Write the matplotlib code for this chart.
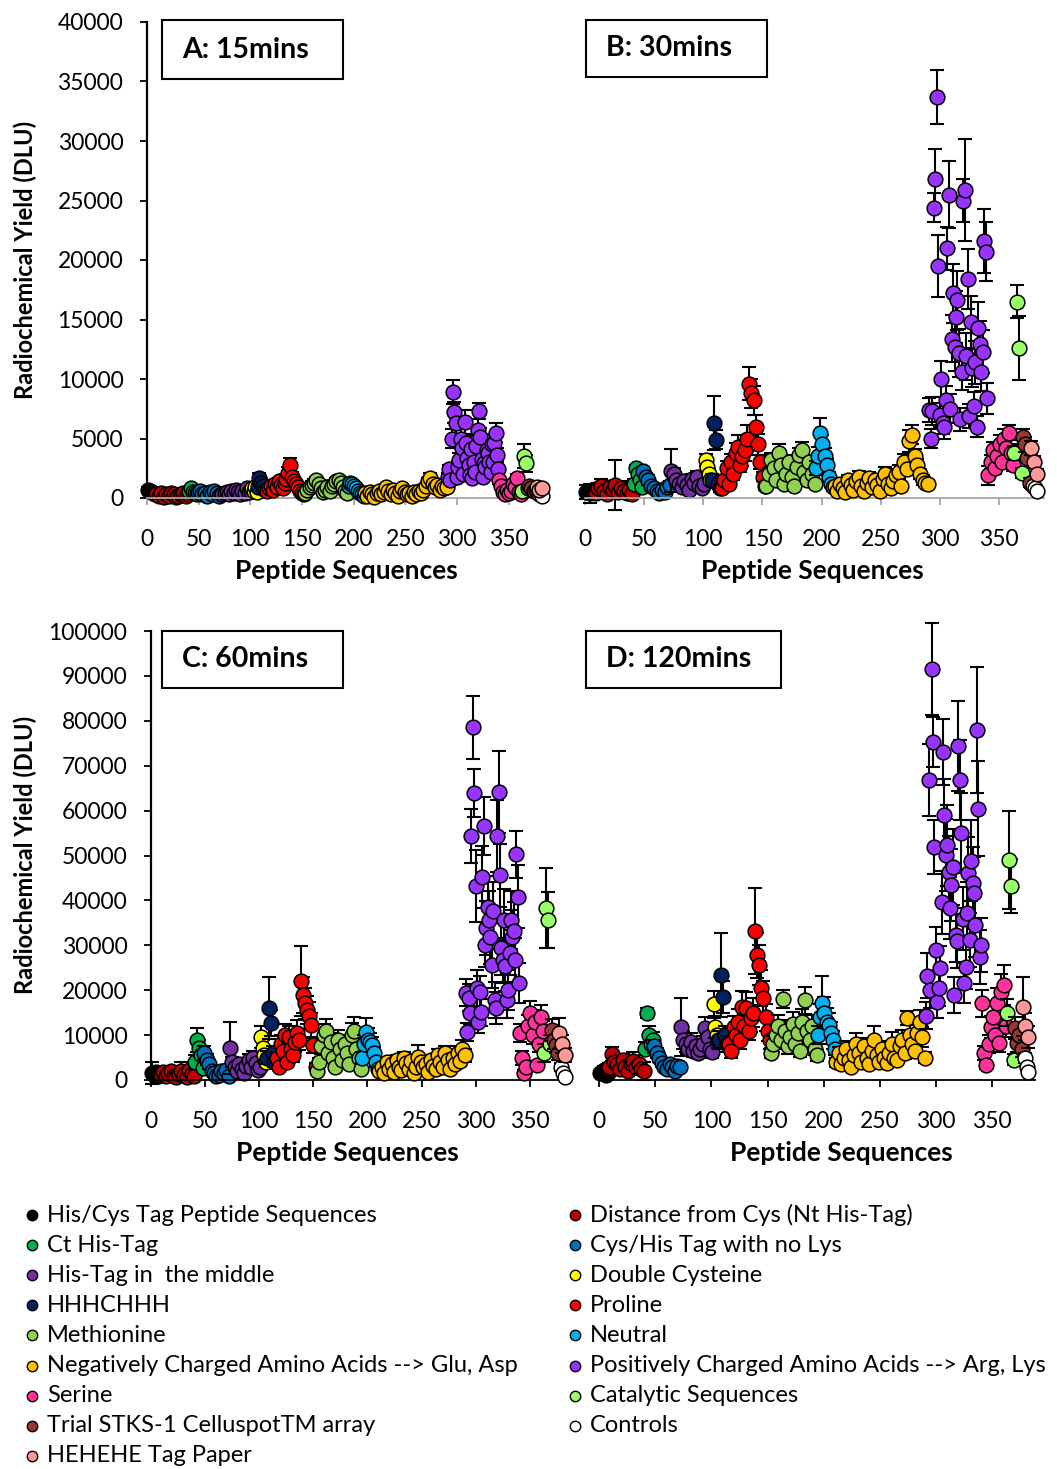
import numpy as np
import matplotlib.pyplot as plt
from matplotlib.lines import Line2D
from matplotlib.patches import Rectangle

plt.rcParams['font.family'] = ['Lato', 'DejaVu Sans']

# series in the order of the legend (row by row)
labels = ['His/Cys Tag Peptide Sequences', 'Distance from Cys (Nt His-Tag)',
          'Ct His-Tag', 'Cys/His Tag with no Lys',
          'His-Tag in  the middle', 'Double Cysteine',
          'HHHCHHH', 'Proline',
          'Methionine', 'Neutral',
          'Negatively Charged Amino Acids --> Glu, Asp', 'Positively Charged Amino Acids --> Arg, Lys',
          'Serine', 'Catalytic Sequences',
          'Trial STKS-1 CelluspotTM array', 'Controls',
          'HEHEHE Tag Paper']
colors = ['#000000', '#C00000', '#00B050', '#0070C0', '#7030A0', '#FFFF00',
          '#002060', '#FF0000', '#92D050', '#00B0F0', '#FFC000', '#9933FF',
          '#FF3399', '#99FF66', '#953735', '#FFFFFF', '#FF9999']

# peptide index range of each series
x_start = [1, 9, 41, 49, 73, 102, 107, 116, 153, 195, 211, 291, 341, 363, 370, 379, 377]
x_end = [8, 40, 48, 72, 101, 106, 114, 152, 194, 210, 290, 340, 362, 369, 376, 382, 382]

# values in thousands of DLU
yA = [[0.7, 0.6, 0.5, 0.4, 0.3],
      [0.3, 0.2, 0.4, 0.1, 0.3, 0.2, 0.4, 0.3, 0.1, 0.2, 0.3, 0.4, 0.2, 0.3],
      [0.6, 0.8, 0.5, 0.4, 0.3],
      [0.5, 0.6, 0.3, 0.4, 0.2, 0.5, 0.3, 0.6, 0.4, 0.2, 0.3],
      [0.3, 0.4, 0.5, 0.3, 0.6, 0.4, 0.7, 0.5, 0.3, 0.6, 0.4, 0.8, 0.5, 0.6],
      [0.8, 0.6, 0.9, 0.5],
      [0.9, 1.7, 1.3, 1.0, 0.7],
      [0.6, 0.8, 1.0, 0.7, 1.2, 0.9, 1.4, 1.1, 0.8, 1.3, 1.6, 2.1, 2.8, 1.8, 1.4, 1.2, 0.9, 0.6, 0.4, 0.3],
      [0.4, 0.7, 0.9, 1.1, 1.3, 1.5, 1.2, 0.8, 0.5, 0.7, 0.9, 0.6, 1.0, 1.2, 1.4, 1.5, 1.3, 0.9, 0.6, 0.4],
      [1.0, 1.3, 1.2, 1.0, 0.8, 0.6, 0.4, 0.3, 0.2],
      [0.4, 0.2, 0.5, 0.3, 0.1, 0.4, 0.6, 0.3, 0.5, 0.9, 0.6, 0.3, 0.7, 0.4, 0.2, 0.6, 0.8, 0.5,
       0.3, 0.4, 0.2, 0.5, 0.3, 0.6, 0.4, 0.7, 1.0, 1.4, 1.7, 1.2, 0.9, 1.1, 0.7, 1.0, 0.8, 0.9],
      [1.8, 2.4, 1.5, 5.0, 8.9, 7.2, 6.3, 1.8, 2.6, 3.2, 5.0, 4.2, 2.0, 6.4, 4.6, 3.4, 2.8, 1.9, 4.1, 1.7,
       3.0, 2.2, 4.4, 5.7, 7.3, 5.1, 3.3, 1.8, 2.9, 2.6, 4.0, 3.8, 3.0, 2.2, 4.5, 3.0, 4.6, 5.5, 3.6, 2.4],
      [1.5, 1.0, 0.5, 0.3, 0.7, 0.4, 0.6, 1.2, 0.9, 1.7, 0.5, 0.3],
      [0.6, 3.5, 2.9, 0.8],
      [1.0, 0.8, 0.6, 0.7],
      [0.3, 0.5, 0.2],
      [0.9, 0.7, 0.8]]
eA = [[0.2, 0.2, 0.1, 0.1, 0.1],
      [0.1, 0.1, 0.2, 0.1, 0.1, 0.1, 0.2, 0.1, 0.1, 0.1, 0.2, 0.1, 0.1, 0.1],
      [0.2, 0.2, 0.1, 0.1, 0.1],
      [0.1, 0.2, 0.1, 0.1, 0.1, 0.2, 0.1, 0.2, 0.1, 0.1, 0.1],
      [0.1, 0.1, 0.2, 0.1, 0.2, 0.1, 0.2, 0.1, 0.1, 0.2, 0.1, 0.2, 0.1, 0.2],
      [0.2, 0.1, 0.2, 0.1],
      [0.3, 0.4, 0.3, 0.2, 0.2],
      [0.2, 0.2, 0.3, 0.2, 0.3, 0.2, 0.3, 0.3, 0.2, 0.3, 0.4, 0.5, 0.6, 0.4, 0.3, 0.3, 0.2, 0.2, 0.1, 0.1],
      [0.1, 0.2, 0.2, 0.3, 0.3, 0.3, 0.3, 0.2, 0.1, 0.2, 0.2, 0.1, 0.2, 0.3, 0.3, 0.3, 0.3, 0.2, 0.1, 0.1],
      [0.3, 0.3, 0.3, 0.2, 0.2, 0.1, 0.1, 0.1, 0.1],
      [0.1, 0.1, 0.1, 0.1, 0.1, 0.1, 0.2, 0.1, 0.1, 0.2, 0.1, 0.1, 0.2, 0.1, 0.1, 0.1, 0.2, 0.1,
       0.1, 0.1, 0.1, 0.1, 0.1, 0.2, 0.1, 0.2, 0.2, 0.3, 0.4, 0.3, 0.2, 0.3, 0.2, 0.2, 0.2, 0.2],
      [0.3, 0.4, 0.3, 0.8, 1.0, 0.9, 1.1, 0.3, 0.5, 0.6, 0.9, 0.7, 0.4, 1.0, 0.8, 0.6, 0.5, 0.3, 0.7, 0.3,
       0.5, 0.4, 0.8, 0.9, 0.7, 0.8, 0.6, 0.3, 0.5, 0.4, 0.7, 0.6, 0.5, 0.4, 0.8, 0.5, 0.8, 0.8, 0.6, 0.4],
      [0.3, 0.2, 0.1, 0.1, 0.2, 0.1, 0.1, 0.2, 0.2, 0.3, 0.1, 0.1],
      [0.2, 1.0, 0.7, 0.2],
      [0.2, 0.2, 0.1, 0.2],
      [0.1, 0.1, 0.1],
      [0.2, 0.2, 0.2]]

yB = [[0.5, 0.6, 0.4, 0.7, 0.5],
      [0.4, 0.8, 1.0, 0.6, 0.3, 0.9, 0.7, 1.1, 0.5, 0.8, 0.6, 0.4, 0.7, 0.3],
      [1.2, 2.5, 2.0, 1.5, 0.9],
      [2.3, 1.8, 1.5, 1.0, 0.8, 0.6, 0.4, 0.7, 0.5, 0.9, 1.1],
      [2.3, 2.0, 1.5, 1.2, 0.9, 1.4, 1.1, 0.7, 1.6, 1.3, 1.8, 1.0, 0.8, 1.2],
      [3.2, 2.6, 2.0, 1.5],
      [1.5, 6.3, 4.9, 1.2, 0.8],
      [0.8, 1.5, 2.5, 1.2, 3.0, 2.0, 3.8, 4.3, 2.8, 3.5, 4.0, 5.0, 9.6, 8.8, 8.2, 6.0, 4.5, 3.0, 1.8, 1.0],
      [1.0, 2.0, 3.2, 2.5, 1.5, 3.8, 2.8, 1.2, 2.0, 3.0, 1.8, 1.0, 2.6, 3.6, 4.0, 2.2, 1.5, 3.0, 2.0, 1.2],
      [2.5, 3.5, 5.5, 4.5, 3.5, 2.8, 1.8, 1.2, 0.9],
      [1.0, 0.6, 1.2, 0.8, 0.5, 1.5, 1.1, 0.7, 1.4, 1.8, 1.0, 0.6, 1.3, 1.7, 0.9, 1.5, 1.1, 0.6,
       1.6, 2.0, 1.2, 0.8, 1.4, 1.9, 2.2, 1.0, 3.0, 2.4, 4.8, 5.3, 3.5, 2.8, 2.0, 1.5, 1.3, 1.2],
      [7.4, 5.0, 7.3, 24.4, 26.8, 33.7, 19.5, 7.0, 10.0, 6.3, 6.0, 8.2, 21.0, 25.5, 7.5, 13.4, 17.2, 12.7, 15.2, 16.6,
       12.2, 6.6, 10.6, 25.0, 25.9, 11.9, 18.4, 6.9, 14.8, 10.9, 7.7, 11.4, 6.0, 14.3, 12.9, 10.6, 12.3, 21.6, 20.7, 8.4],
      [1.9, 3.0, 4.0, 2.5, 3.5, 4.5, 3.0, 5.0, 4.2, 5.5, 3.8, 2.8],
      [3.8, 16.5, 12.6, 2.1],
      [5.1, 4.5, 3.4, 1.3],
      [1.0, 0.8, 0.6],
      [4.2, 3.0, 2.0]]
eB = [[0.6, 0.4, 0.8, 0.5, 0.3],
      [0.4, 0.5, 0.6, 0.3, 0.3, 0.5, 0.2, 2.1, 0.4, 0.6, 0.4, 0.3, 0.5, 0.3],
      [0.4, 0.3, 0.5, 0.4, 0.3],
      [0.3, 0.3, 0.4, 0.3, 0.2, 0.2, 0.2, 0.3, 0.2, 0.3, 0.3],
      [1.8, 0.5, 0.4, 0.3, 0.3, 0.4, 0.3, 0.2, 0.4, 0.3, 0.5, 0.3, 0.2, 0.3],
      [0.5, 0.4, 0.4, 0.3],
      [0.5, 2.3, 0.8, 0.4, 0.3],
      [0.3, 0.4, 0.6, 0.3, 0.7, 0.5, 0.8, 1.0, 0.6, 0.8, 0.9, 1.1, 1.4, 1.2, 1.2, 1.0, 0.9, 0.6, 0.4, 0.3],
      [0.3, 0.5, 0.6, 0.5, 0.4, 0.7, 0.5, 0.3, 0.5, 0.6, 0.4, 0.3, 0.5, 0.6, 0.7, 0.5, 0.4, 0.6, 0.4, 0.3],
      [0.6, 0.8, 1.2, 0.8, 0.7, 0.5, 0.4, 0.3, 0.3],
      [0.3, 0.2, 0.3, 0.2, 0.2, 0.4, 0.3, 0.2, 0.3, 0.5, 0.3, 0.2, 0.3, 0.5, 0.3, 0.4, 0.3, 0.2,
       0.4, 0.6, 0.3, 0.2, 0.3, 0.5, 0.6, 0.3, 0.7, 0.5, 0.9, 0.8, 0.6, 0.5, 0.4, 0.4, 0.3, 0.3],
      [1.0, 0.8, 1.2, 1.2, 2.5, 2.3, 2.6, 1.0, 1.5, 0.9, 1.0, 1.2, 1.8, 2.8, 1.2, 2.0, 2.5, 2.0, 2.2, 2.5,
       2.0, 1.0, 1.5, 1.8, 4.3, 2.0, 2.5, 1.0, 2.2, 1.6, 1.2, 1.8, 0.9, 2.2, 2.0, 1.6, 1.8, 2.7, 2.5, 1.3],
      [0.8, 0.6, 0.7, 0.5, 0.6, 0.8, 0.5, 0.8, 0.7, 0.6, 0.7, 0.5],
      [0.6, 1.4, 2.7, 0.4],
      [0.7, 0.6, 0.5, 0.4],
      [0.2, 0.2, 0.1],
      [0.6, 0.5, 0.4]]

yC = [[1.5, 1.2, 1.8, 1.0, 1.3],
      [1.2, 1.8, 0.8, 1.5, 2.0, 1.0, 0.6, 1.4, 1.9, 1.1, 0.7, 2.2, 1.3, 0.9],
      [4.0, 8.9, 7.1, 5.5, 2.7],
      [6.0, 4.5, 3.5, 2.0, 1.5, 0.8, 1.2, 2.0, 1.5, 2.2, 1.0],
      [7.1, 4.0, 3.0, 2.0, 3.5, 2.5, 1.5, 3.2, 4.5, 2.8, 5.0, 3.8, 2.2, 3.0],
      [9.6, 7.1, 5.5, 4.1],
      [5.0, 16.0, 12.7, 6.0, 4.0],
      [5.0, 3.0, 8.0, 6.5, 10.0, 4.0, 9.5, 7.0, 5.5, 8.5, 10.5, 9.0, 22.0, 18.9, 17.1, 15.6, 14.3, 12.2, 7.8, 3.0],
      [2.0, 4.0, 7.5, 10.0, 11.0, 6.0, 8.5, 5.0, 3.0, 9.0, 7.0, 4.5, 8.0, 6.0, 3.5, 10.0, 11.0, 7.0, 5.0, 2.5],
      [5.0, 8.0, 10.7, 9.0, 8.5, 7.8, 6.0, 4.0, 2.5],
      [2.0, 3.0, 1.5, 4.0, 2.5, 3.5, 1.8, 4.5, 3.0, 2.2, 5.0, 3.8, 2.5, 4.2, 1.5, 3.0, 5.2, 4.0,
       2.8, 3.5, 1.8, 4.5, 3.2, 2.5, 5.5, 4.0, 3.0, 6.0, 4.5, 2.5, 5.0, 3.5, 6.0, 4.2, 7.0, 5.5],
      [19.4, 10.7, 18.3, 15.0, 54.3, 78.6, 63.9, 43.2, 20.5, 12.9, 19.6, 15.1, 45.2, 56.6, 30.1, 33.8, 38.5, 35.6, 31.9, 25.6,
       37.6, 17.8, 16.0, 54.3, 64.1, 45.6, 29.4, 26.7, 35.6, 25.4, 17.8, 20.0, 28.3, 35.6, 31.9, 33.2, 26.7, 50.3, 40.8, 21.6],
      [10.4, 4.9, 1.6, 3.0, 12.0, 14.9, 10.0, 13.0, 3.3, 8.0, 14.1, 11.0],
      [6.0, 38.3, 35.6, 8.0],
      [11.1, 9.0, 7.8, 6.0],
      [2.9, 1.5, 0.7],
      [10.4, 8.0, 5.6]]
eC = [[2.5, 0.8, 1.0, 0.6, 0.5],
      [0.6, 0.8, 0.5, 0.7, 1.0, 0.5, 0.4, 0.7, 2.0, 0.6, 0.4, 1.0, 0.6, 0.5],
      [1.5, 2.7, 1.8, 1.2, 0.8],
      [1.5, 1.2, 1.0, 0.6, 0.5, 0.3, 0.4, 0.6, 0.5, 0.7, 0.4],
      [5.8, 1.2, 0.9, 0.6, 1.0, 0.8, 0.5, 1.0, 1.4, 0.8, 1.5, 1.1, 0.7, 0.9],
      [2.5, 1.8, 1.5, 1.2],
      [1.5, 6.9, 3.0, 1.5, 1.0],
      [1.2, 0.8, 2.0, 1.5, 2.5, 1.0, 2.5, 1.8, 1.4, 2.2, 2.8, 2.4, 7.8, 4.0, 3.5, 3.2, 3.0, 2.8, 1.8, 0.8],
      [0.6, 1.0, 1.8, 2.4, 2.5, 1.5, 2.0, 1.2, 0.8, 2.2, 1.8, 1.1, 2.0, 1.5, 0.9, 2.8, 3.0, 1.8, 1.2, 0.7],
      [1.2, 2.0, 3.0, 2.5, 2.0, 1.8, 1.4, 1.0, 0.6],
      [0.5, 0.8, 0.4, 1.0, 0.6, 0.9, 0.5, 1.1, 0.8, 0.6, 1.3, 1.0, 0.6, 1.1, 0.4, 0.8, 2.5, 1.0,
       0.7, 0.9, 0.5, 1.1, 0.8, 0.6, 1.4, 1.0, 0.8, 1.5, 1.1, 0.6, 1.2, 0.9, 1.5, 1.1, 1.8, 1.4],
      [3.0, 2.0, 3.0, 2.5, 6.0, 7.0, 5.4, 8.0, 4.0, 2.5, 3.5, 3.0, 7.0, 6.4, 5.0, 6.0, 7.0, 6.5, 6.0, 5.0,
       6.5, 4.0, 3.5, 8.0, 9.2, 7.0, 6.0, 5.0, 7.0, 5.5, 4.0, 4.5, 5.0, 6.5, 6.0, 6.5, 5.0, 5.2, 7.0, 4.5],
      [2.0, 1.5, 0.6, 1.0, 2.5, 2.8, 2.0, 2.5, 1.0, 1.8, 2.6, 2.2],
      [2.0, 8.9, 6.2, 2.0],
      [2.5, 2.0, 1.8, 1.5],
      [0.8, 0.5, 0.3],
      [3.5, 2.0, 1.5]]

yD = [[1.5, 1.8, 2.2, 1.2, 1.6],
      [3.0, 5.8, 4.0, 3.5, 2.5, 4.5, 3.0, 2.0, 3.8, 4.2, 2.8, 3.5, 2.4, 2.0],
      [7.0, 14.9, 10.0, 8.0, 9.0],
      [7.5, 6.0, 4.9, 3.8, 3.0, 2.5, 3.5, 2.8, 2.0, 3.2, 2.9],
      [11.8, 9.0, 8.0, 7.0, 8.5, 6.5, 7.5, 6.0, 7.0, 8.0, 11.6, 9.5, 7.0, 6.2],
      [16.9, 11.8, 10.0, 8.9],
      [9.0, 23.4, 18.5, 10.0, 8.0],
      [8.0, 6.5, 11.8, 10.0, 13.0, 9.0, 16.3, 12.0, 16.0, 11.0, 13.8, 15.0, 33.2, 27.8, 25.6, 20.5, 18.3, 14.0, 11.0, 9.0],
      [6.0, 8.0, 10.0, 12.0, 9.0, 18.0, 11.0, 7.5, 9.5, 12.5, 8.0, 10.5, 6.5, 13.0, 17.8, 11.0, 9.0, 12.0, 7.0, 5.5],
      [10.0, 14.0, 17.1, 15.0, 13.0, 12.2, 10.5, 9.0, 7.0],
      [4.0, 6.0, 3.5, 5.0, 7.0, 4.5, 3.0, 5.5, 8.0, 6.0, 4.0, 7.5, 5.0, 3.5, 6.5, 9.0, 5.5, 4.0,
       7.0, 5.0, 3.8, 6.0, 8.0, 5.0, 4.5, 7.5, 9.0, 6.0, 13.8, 10.0, 8.0, 6.5, 10.5, 12.9, 9.6, 5.0],
      [14.3, 23.2, 66.8, 20.0, 91.5, 75.3, 51.9, 29.0, 17.4, 20.5, 24.9, 39.6, 73.0, 59.0, 50.1, 52.3, 46.3, 38.3, 43.4, 47.4,
       18.9, 32.3, 31.0, 74.4, 66.8, 55.0, 35.9, 21.6, 25.2, 37.2, 46.1, 31.2, 48.8, 43.9, 41.6, 34.5, 77.9, 60.4, 27.4, 30.1],
      [17.1, 6.0, 3.3, 8.0, 11.8, 14.0, 10.0, 17.1, 8.2, 19.7, 21.2, 12.0],
      [15.0, 49.0, 43.2, 4.5],
      [11.6, 8.2, 10.0, 7.0],
      [4.9, 3.0, 1.8],
      [16.3, 12.0, 9.6]]
eD = [[0.6, 0.8, 0.9, 0.5, 0.6],
      [0.8, 1.5, 1.2, 1.0, 0.8, 1.2, 0.8, 0.6, 1.0, 2.0, 0.8, 1.0, 0.7, 2.0],
      [1.5, 1.1, 2.0, 1.5, 1.8],
      [1.5, 1.2, 1.0, 0.8, 0.6, 0.5, 0.7, 0.6, 0.5, 0.7, 0.6],
      [6.5, 2.0, 1.8, 1.5, 2.0, 1.4, 1.6, 1.2, 1.5, 1.8, 2.5, 2.0, 1.5, 1.3],
      [3.0, 2.5, 2.0, 1.8],
      [2.0, 9.3, 3.5, 2.0, 1.8],
      [1.8, 1.5, 2.5, 2.0, 2.8, 2.0, 3.5, 2.5, 3.5, 2.2, 3.0, 3.2, 9.6, 5.0, 4.5, 4.0, 3.8, 3.0, 2.4, 2.0],
      [1.2, 1.8, 2.2, 2.5, 2.0, 2.0, 2.4, 1.6, 2.0, 2.6, 1.8, 2.2, 1.4, 2.8, 3.0, 2.4, 2.0, 2.5, 1.5, 1.2],
      [2.0, 3.0, 6.0, 3.5, 3.0, 2.8, 2.5, 2.0, 1.5],
      [1.0, 1.4, 0.8, 1.2, 1.6, 1.0, 0.7, 1.3, 2.5, 1.4, 1.0, 1.8, 1.2, 0.8, 1.5, 3.0, 1.3, 1.0,
       1.6, 1.2, 0.9, 1.4, 2.8, 1.2, 1.0, 1.8, 2.2, 1.4, 1.5, 2.4, 1.8, 1.5, 2.5, 2.8, 2.2, 1.2],
      [3.0, 5.0, 8.0, 4.0, 10.3, 5.5, 6.0, 5.0, 3.5, 4.0, 5.0, 7.0, 7.4, 8.0, 8.0, 9.0, 8.0, 7.0, 8.0, 8.5,
       4.0, 6.0, 6.0, 10.0, 9.0, 9.0, 7.0, 4.5, 5.0, 7.0, 8.0, 6.0, 9.0, 8.0, 8.0, 7.0, 14.0, 10.6, 6.0, 6.0],
      [3.0, 1.5, 0.8, 2.0, 2.5, 3.0, 2.2, 3.5, 2.0, 4.0, 4.5, 2.5],
      [3.0, 11.0, 6.0, 1.2],
      [2.5, 2.0, 2.2, 1.8],
      [1.2, 0.8, 0.5],
      [6.6, 3.0, 2.5]]

W, H = 1057, 1469
fig = plt.figure(figsize=(W / 100, H / 100), dpi=100)


def make_ax(left, right, top, bottom):
    return fig.add_axes([left / W, 1 - bottom / H, (right - left) / W, (bottom - top) / H])


def draw(ax, vals, errs):
    for i in range(len(labels)):
        y = np.array(vals[i]) * 1000
        e = np.array(errs[i]) * 1000
        x = np.linspace(x_start[i], x_end[i], len(y))
        cont = ax.errorbar(x, y, yerr=e, fmt='none', ecolor='black', elinewidth=1.5,
                           capsize=5, capthick=1.5, zorder=2 + i * 0.1)
        for art in list(cont.lines[1]) + list(cont.lines[2]):
            art.set_clip_on(False)
        ax.plot(x, y, 'o', ms=10.6, mfc=colors[i], mec='black', mew=1.1,
                zorder=2.05 + i * 0.1, clip_on=False)


panels = [
    (yA, eA, (147, 548, 22, 498), 40000, 5000, True, '#A6A6A6', 'A: 15mins', (162, 343, 20, 79), (346, 571)),
    (yB, eB, (585, 1044, 22, 498), 40000, 5000, False, '#A6A6A6', 'B: 30mins', (586, 767, 20, 77), (812, 571)),
    (yC, eC, (151, 571, 631, 1080), 100000, 10000, True, 'black', 'C: 60mins', (162, 343, 631, 688), (347, 1153)),
    (yD, eD, (599, 1035, 631, 1080), 100000, 10000, False, 'black', 'D: 120mins', (586, 781, 631, 688), (841, 1153)),
]

for vals, errs, rect, ymax, ystep, show_y, xcol, title, box, xl in panels:
    ax = make_ax(*rect)
    draw(ax, vals, errs)
    ax.set_xlim(0, 388)
    ax.set_ylim(0, ymax)
    ax.set_xticks(np.arange(0, 351, 50))
    ax.set_yticks(np.arange(0, ymax + 1, ystep))
    ax.set_facecolor('none')
    for s in ['top', 'right']:
        ax.spines[s].set_visible(False)
    ax.spines['bottom'].set_color(xcol)
    ax.spines['bottom'].set_linewidth(1.3)
    ax.tick_params(axis='x', direction='out', length=5, width=1.3, color=xcol,
                   pad=17, labelsize=16.5)
    if show_y:
        ax.spines['left'].set_linewidth(1.6)
        ax.tick_params(axis='y', direction='out', length=5, width=1.3,
                       pad=12, labelsize=16.5)
    else:
        ax.spines['left'].set_visible(False)
        ax.tick_params(axis='y', left=False, labelleft=False)

    l, r, t, b = box
    fig.add_artist(Rectangle((l / W, 1 - b / H), (r - l) / W, (b - t) / H,
                             transform=fig.transFigure, fill=False, lw=1.5, ec='black'))
    fig.text((l + 20) / W, 1 - ((t + b) / 2) / H, title, fontsize=20.5, fontweight='bold',
             ha='left', va='center')
    fig.text(xl[0] / W, 1 - xl[1] / H, 'Peptide Sequences', fontsize=19,
             fontweight='bold', ha='center', va='center')

fig.text(25 / W, 1 - 260 / H, 'Radiochemical Yield (DLU)', rotation=90, fontsize=17,
         fontweight='bold', ha='center', va='center')
fig.text(25 / W, 1 - 855 / H, 'Radiochemical Yield (DLU)', rotation=90, fontsize=17,
         fontweight='bold', ha='center', va='center')

# legend, two columns filled row by row
for i, (lab, col) in enumerate(zip(labels, colors)):
    mx = [32, 575][i % 2]
    my = 1215 + 30.1 * (i // 2)
    fig.add_artist(Line2D([mx / W], [1 - my / H], marker='o', ms=7.5, mfc=col, mec='black',
                          mew=1.0, transform=fig.transFigure))
    fig.text((mx + 15) / W, 1 - my / H, lab, fontsize=17.0, ha='left', va='center')

fig.savefig('out.png', dpi=100)
